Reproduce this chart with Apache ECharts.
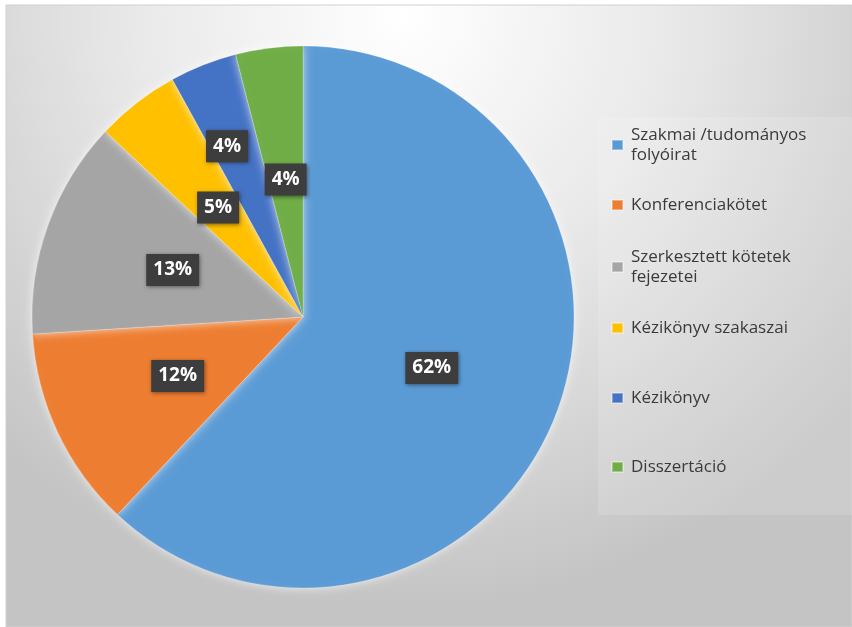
<!DOCTYPE html>
<html>
<head>
<meta charset="utf-8">
<script src="https://cdn.jsdelivr.net/npm/echarts@6/dist/echarts.min.js"></script>
<style>
  html, body { margin: 0; padding: 0; background: #ffffff; }
  #chart { width: 852px; height: 627px; }
</style>
</head>
<body>
<div id="chart"></div>
<script>
// Publication types and their shares (percent)
const categories = [
  'Szakmai /tudományos\nfolyóirat',
  'Konferenciakötet',
  'Szerkesztett kötetek\nfejezetei',
  'Kézikönyv szakaszai',
  'Kézikönyv',
  'Disszertáció'
];
const shares = [62, 12, 13, 5, 4, 4];
const colors = ['#5B9BD5', '#ED7D31', '#A5A5A5', '#FFC000', '#4472C4', '#70AD47'];

// Vertical position of each legend entry
const legendTops = [125, 195, 247, 318, 388, 457];

const chart = echarts.init(document.getElementById('chart'), null, { renderer: 'canvas' });

const pieData = categories.map((name, i) => ({
  name: name,
  value: shares[i],
  itemStyle: { color: colors[i] }
}));

const legends = categories.map((name, i) => ({
  data: [name],
  orient: 'vertical',
  left: 611,
  top: legendTops[i],
  padding: 0,
  itemWidth: 11,
  itemHeight: 10,
  icon: 'rect',
  selectedMode: false,
  textStyle: {
    fontFamily: 'Open Sans',
    fontSize: 17,
    lineHeight: 20,
    color: '#3a3a3a',
    padding: [0, 0, 0, 3]
  }
}));

chart.setOption({
  animation: false,
  graphic: [
    {
      type: 'rect',
      z: -10,
      shape: { x: 6, y: 5, width: 846, height: 622 },
      style: {
        fill: {
          type: 'radial', x: 0.47, y: 0.02, r: 0.95,
          colorStops: [
            { offset: 0, color: '#ffffff' },
            { offset: 0.45, color: '#e9e9e9' },
            { offset: 1, color: '#c4c4c4' }
          ]
        },
        stroke: '#d0d0d0',
        lineWidth: 1
      }
    },
    {
      type: 'rect',
      z: -9,
      shape: { x: 598, y: 117, width: 254, height: 398 },
      style: { fill: 'rgba(255,255,255,0.14)' }
    }
  ],
  legend: legends,
  series: [
    {
      type: 'pie',
      center: [303, 317],
      radius: 271,
      startAngle: 90,
      clockwise: true,
      avoidLabelOverlap: false,
      silent: true,
      data: pieData,
      itemStyle: {
        borderColor: 'rgba(255,255,255,0.35)',
        borderWidth: 0.6,
        shadowColor: 'rgba(255,255,255,0.7)',
        shadowBlur: 10
      },
      labelLine: { show: false },
      label: {
        show: true,
        position: 'inside',
        formatter: p => p.value + '%',
        color: '#ffffff',
        fontFamily: 'Open Sans',
        fontWeight: 'bold',
        fontSize: 19,
        backgroundColor: '#3d3d3d',
        padding: [7, 7, 6, 7],
        shadowColor: 'rgba(0,0,0,0.45)',
        shadowBlur: 4,
        shadowOffsetX: 1,
        shadowOffsetY: 1
      },
      // the narrow "Kézikönyv" label sits further out to clear its neighbours
      labelLayout: params => params.dataIndex === 4 ? { dx: -25, dy: -42 } : {}
    }
  ]
});
</script>
</body>
</html>
